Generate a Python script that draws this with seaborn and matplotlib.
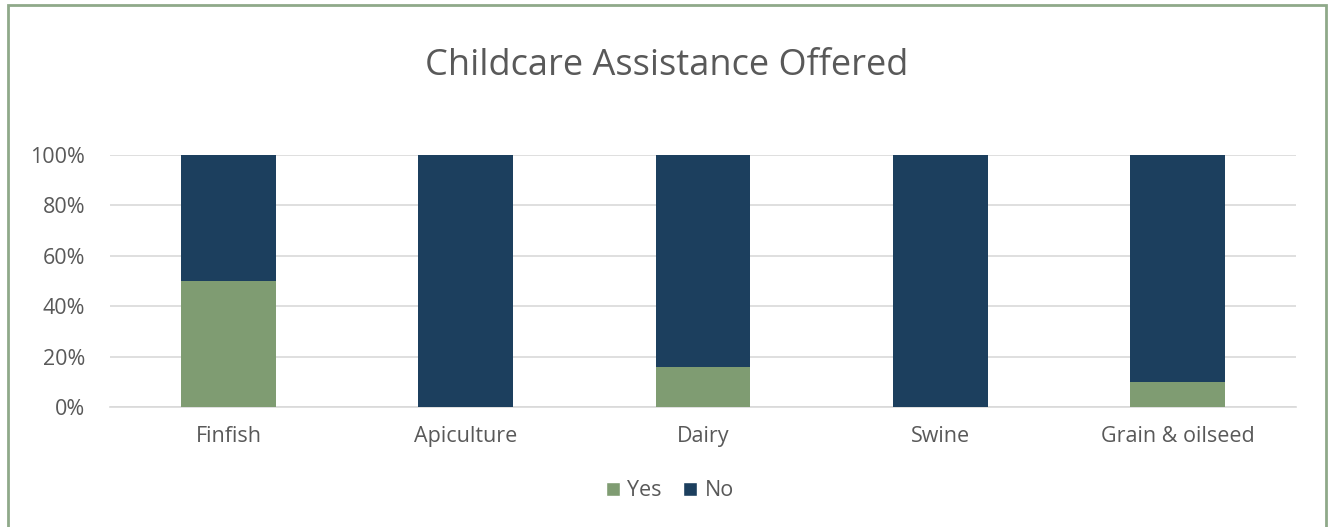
import matplotlib
matplotlib.use("Agg")
import matplotlib.pyplot as plt
import seaborn as sns
import pandas as pd
from matplotlib.patches import Rectangle, Patch
from matplotlib.ticker import PercentFormatter

categories = ["Finfish", "Apiculture", "Dairy", "Swine", "Grain & oilseed"]
yes_pct = [50, 0, 16, 0, 10]
no_pct = [50, 100, 84, 100, 90]

GREEN = "#7f9c72"
NAVY = "#1c3f5e"
TEXT = "#595959"

sns.set_theme(style="white")
plt.rcParams['font.family'] = ['Open Sans', 'DejaVu Sans']

df = pd.DataFrame({"category": categories, "Yes": yes_pct, "No": no_pct})
df["Total"] = df["Yes"] + df["No"]

fig = plt.figure(figsize=(13.28, 5.27), dpi=100)
ax = fig.add_axes([110/1328, 120/527, (1296-110)/1328, (407-155)/527])

sns.barplot(data=df, x="category", y="Total", color=NAVY, width=0.4,
            saturation=1, ax=ax, zorder=3, edgecolor="none")
sns.barplot(data=df, x="category", y="Yes", color=GREEN, width=0.4,
            saturation=1, ax=ax, zorder=4, edgecolor="none")

ax.set_ylim(0, 100)
ax.set_yticks([0, 20, 40, 60, 80, 100])
ax.yaxis.set_major_formatter(PercentFormatter(decimals=0))
ax.set_xlim(-0.5, len(categories) - 0.5)
ax.set_xlabel("")
ax.set_ylabel("")
ax.grid(axis="y", color="#d9d9d9", linewidth=1.2, zorder=0)
ax.set_axisbelow(True)
for s in ["top", "right", "left"]:
    ax.spines[s].set_visible(False)
ax.spines["bottom"].set_color("#d9d9d9")
ax.spines["bottom"].set_linewidth(1.2)
ax.tick_params(axis="both", length=0, labelsize=15.5, colors=TEXT)
ax.tick_params(axis="y", pad=18)
ax.tick_params(axis="x", pad=14)

fig.text(667/1328, 1 - 66/527, "Childcare Assistance Offered", ha="center",
         va="center", fontsize=26, color=TEXT)

handles = [Patch(facecolor=GREEN, label="Yes"), Patch(facecolor=NAVY, label="No")]
fig.legend(handles=handles, loc="center", bbox_to_anchor=(670/1328, 1 - 491/527),
           ncol=2, frameon=False, fontsize=15.5, handlelength=0.65, handleheight=0.65,
           handletextpad=0.35, columnspacing=1.0, labelcolor=TEXT)

fig.patches.append(Rectangle((8/1328, -10/527), 1318/1328, 532/527, transform=fig.transFigure,
                             fill=False, edgecolor="#8fa98a", linewidth=2, clip_on=False))

fig.savefig("out.png", dpi=100)
